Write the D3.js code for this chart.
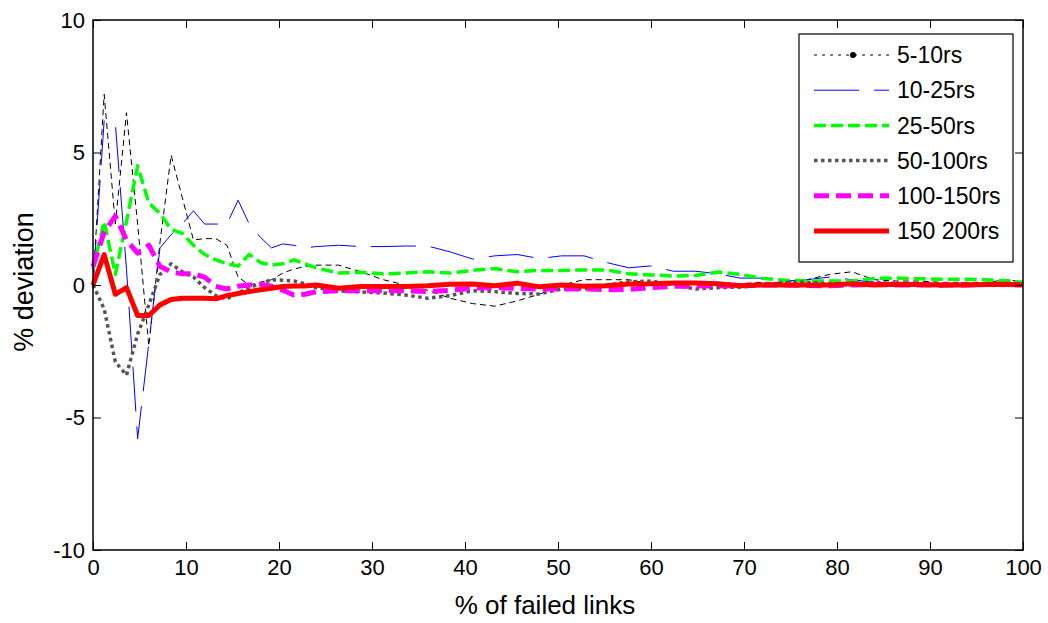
<!DOCTYPE html>
<html>
<head>
<meta charset="utf-8">
<script src="https://cdn.jsdelivr.net/npm/d3@7"></script>
<style>
  html, body { margin: 0; padding: 0; background: #fff; }
  svg { display: block; font-family: "Liberation Sans", Arial, sans-serif; }
</style>
</head>
<body>
<svg id="chart" width="1048" height="623"></svg>
<script>
// x positions (% of failed links) shared by all series
const failedPct = [0, 1.2, 2.4, 3.6, 4.8, 6.0, 7.2, 8.4, 9.6, 10.8, 12.0, 13.2, 14.4, 15.6, 16.8, 18.0, 19.2, 20.4, 21.6, 22.8, 24.0,
  26.4, 28.8, 31.2, 33.6, 36.0, 38.4, 40.8, 43.2, 45.6, 48.0, 50.4, 52.8, 55.2, 57.6, 60.0, 62.4, 64.8, 67.2, 69.6,
  72.0, 74.4, 76.8, 79.2, 81.6, 84.0, 86.4, 88.8, 91.2, 93.6, 96.0, 98.4, 100];

// % deviation per router-count range
const dev5to10 = [0, 7.2, 2.3, 6.5, 2.3, -2.3, 1.6, 4.9, 3.3, 1.7, 1.75, 1.75, 1.5, 0.3, 0.0, 0.1, 0.2, 0.45, 0.6, 0.7, 0.75,
  0.75, 0.5, 0.2, 0.0, -0.2, -0.5, -0.7, -0.8, -0.6, -0.35, 0.0, 0.2, 0.2, 0.2, 0.05, 0.1, 0.05, 0.1, 0.05,
  0.1, 0.1, 0.2, 0.4, 0.5, 0.2, 0.15, 0.15, 0.1, 0.1, 0.1, 0.2, 0.1];
const dev10to25 = [0, 6.2, 6.1, 0.6, -5.8, -2.2, 1.4, 1.9, 2.3, 2.8, 2.3, 2.3, 2.3, 3.2, 2.3, 1.8, 1.4, 1.55, 1.5, 1.4, 1.45,
  1.5, 1.45, 1.45, 1.47, 1.47, 1.25, 0.98, 1.1, 1.15, 1.0, 1.1, 1.1, 0.85, 0.65, 0.72, 0.52, 0.52, 0.42, 0.26,
  0.26, 0.15, 0.2, 0.3, 0.2, 0.1, 0.1, 0.05, -0.08, 0.05, 0.05, 0.05, 0];
const dev25to50 = [0.6, 2.4, 0.4, 2.4, 4.5, 3.1, 2.7, 2.1, 1.95, 1.5, 1.15, 0.95, 0.8, 0.72, 1.15, 0.85, 0.75, 0.8, 0.95, 0.8, 0.65,
  0.45, 0.48, 0.42, 0.45, 0.5, 0.45, 0.55, 0.62, 0.5, 0.55, 0.55, 0.57, 0.57, 0.42, 0.38, 0.34, 0.36, 0.49, 0.4,
  0.25, 0.18, 0.15, 0.15, 0.15, 0.25, 0.26, 0.24, 0.22, 0.22, 0.2, 0.15, 0.1];
const dev50to100 = [0, -0.9, -2.9, -3.4, -1.85, -0.75, 0.4, 0.8, 0.5, 0.3, -0.1, -0.4, -0.52, -0.3, -0.1, 0.05, 0.2, 0.18, 0.15, 0.05, -0.1,
  -0.22, -0.26, -0.3, -0.38, -0.5, -0.4, -0.22, -0.25, -0.32, -0.34, -0.15, -0.15, 0.0, 0.12, 0.15, 0.0, -0.15, -0.1, -0.08,
  0.0, 0.1, 0.1, 0.05, 0.05, 0.1, 0.05, 0.05, 0.0, 0.05, 0.0, 0.05, 0];
const dev100to150 = [0.7, 2.0, 2.6, 1.7, 1.2, 1.5, 0.7, 0.5, 0.42, 0.42, 0.3, -0.05, -0.15, -0.05, 0.0, 0.03, -0.05, -0.2, -0.38, -0.35, -0.25,
  -0.22, -0.22, -0.22, -0.22, -0.25, -0.2, -0.12, -0.1, -0.13, -0.15, -0.15, -0.15, -0.18, -0.17, -0.1, -0.05, -0.04, -0.04, -0.02,
  0.0, 0.0, -0.02, -0.03, 0.0, 0.02, 0.0, 0.0, 0.0, 0.0, 0.02, 0.02, 0];
const dev150to200 = [0, 1.15, -0.35, -0.1, -1.15, -1.15, -0.75, -0.55, -0.5, -0.5, -0.5, -0.52, -0.4, -0.32, -0.25, -0.18, -0.12, -0.06, -0.04, -0.04, 0.0,
  -0.12, -0.06, -0.06, -0.06, -0.03, 0.03, 0.04, -0.03, 0.07, -0.07, 0.0, -0.05, -0.03, 0.04, 0.05, 0.08, 0.08, 0.05, -0.03,
  0.0, 0.0, 0.0, 0.0, 0.05, 0.0, 0.03, 0.02, 0.0, 0.0, 0.02, 0.03, 0];

const seriesNames = ["5-10rs", "10-25rs", "25-50rs", "50-100rs", "100-150rs", "150 200rs"];
const xTicks = [0, 10, 20, 30, 40, 50, 60, 70, 80, 90, 100];
const yTicks = [-10, -5, 0, 5, 10];

const series = [
  { name: seriesNames[0], values: dev5to10,    color: "#000000", width: 1,   dash: "6,4",   marker: true },
  { name: seriesNames[1], values: dev10to25,   color: "#0000ff", width: 1,   dash: "45,15" },
  { name: seriesNames[2], values: dev25to50,   color: "#00ff00", width: 3.5, dash: "12,5" },
  { name: seriesNames[3], values: dev50to100,  color: "#555555", width: 3.5, dash: "3.5,3.5" },
  { name: seriesNames[4], values: dev100to150, color: "#ff00ff", width: 5,   dash: "15,7" },
  { name: seriesNames[5], values: dev150to200, color: "#ff0000", width: 5,   dash: null }
];

const svg = d3.select("#chart");
const plot = { left: 93, right: 1023, top: 20, bottom: 550 };

const x = d3.scaleLinear().domain([0, 100]).range([plot.left, plot.right]);
const y = d3.scaleLinear().domain([-10, 10]).range([plot.bottom, plot.top]);

svg.append("rect").attr("width", 1048).attr("height", 623).attr("fill", "#fff");

// data lines
const line = d3.line().x((d, i) => x(failedPct[i])).y(d => y(d));
const lines = svg.append("g");
series.forEach(s => {
  lines.append("path")
    .datum(s.values)
    .attr("d", line)
    .attr("fill", "none")
    .attr("stroke", s.color)
    .attr("stroke-width", s.width)
    .attr("stroke-dasharray", s.dash)
    .attr("stroke-linejoin", "round");
});

// axes box with inward ticks on all four sides
const tickLen = 8;
const fontTick = 22;
const plain = d => String(d);  // plain hyphen for negatives
const axBottom = svg.append("g").attr("transform", `translate(0,${plot.bottom})`)
  .call(d3.axisBottom(x).tickValues(xTicks).tickFormat(plain).tickSizeInner(-tickLen).tickSizeOuter(0).tickPadding(9));
const axTop = svg.append("g").attr("transform", `translate(0,${plot.top})`)
  .call(d3.axisTop(x).tickValues(xTicks).tickSizeInner(-tickLen).tickSizeOuter(0).tickFormat(""));
const axLeft = svg.append("g").attr("transform", `translate(${plot.left},0)`)
  .call(d3.axisLeft(y).tickValues(yTicks).tickFormat(plain).tickSizeInner(-tickLen).tickSizeOuter(0).tickPadding(8));
const axRight = svg.append("g").attr("transform", `translate(${plot.right},0)`)
  .call(d3.axisRight(y).tickValues(yTicks).tickSizeInner(-tickLen).tickSizeOuter(0).tickFormat(""));

[axBottom, axTop, axLeft, axRight].forEach(g => {
  g.select(".domain").remove();
  g.selectAll(".tick line").attr("stroke", "#000").attr("stroke-width", 1);
  g.selectAll(".tick text")
    .attr("fill", "#000")
    .attr("font-size", fontTick)
    .attr("font-family", "Liberation Sans, Arial, sans-serif");
});

svg.append("rect")
  .attr("x", plot.left).attr("y", plot.top)
  .attr("width", plot.right - plot.left).attr("height", plot.bottom - plot.top)
  .attr("fill", "none").attr("stroke", "#000").attr("stroke-width", 1.5);

// axis titles
svg.append("text")
  .attr("x", 545).attr("y", 614)
  .attr("text-anchor", "middle")
  .attr("font-size", 26)
  .text("% of failed links");

svg.append("text")
  .attr("transform", "translate(33,282) rotate(-90)")
  .attr("text-anchor", "middle")
  .attr("font-size", 27)
  .text("% deviation");

// legend
const legend = svg.append("g");
legend.append("rect")
  .attr("x", 799).attr("y", 34).attr("width", 214).attr("height", 228)
  .attr("fill", "#fff").attr("stroke", "#000").attr("stroke-width", 1.2);

const legendY = d3.scalePoint().domain(seriesNames).range([55, 231]);
series.forEach(s => {
  const ly = legendY(s.name);
  legend.append("line")
    .attr("x1", 814).attr("x2", 889).attr("y1", ly).attr("y2", ly)
    .attr("stroke", s.color)
    .attr("stroke-width", s.width)
    .attr("stroke-dasharray", s.name === seriesNames[0] ? "3,5" : s.dash);
  if (s.marker) {
    legend.append("circle").attr("cx", 853).attr("cy", ly).attr("r", 3).attr("fill", s.color);
  }
  legend.append("text")
    .attr("x", 897).attr("y", ly).attr("dy", "0.36em")
    .attr("font-size", 23)
    .text(s.name);
});
</script>
</body>
</html>
